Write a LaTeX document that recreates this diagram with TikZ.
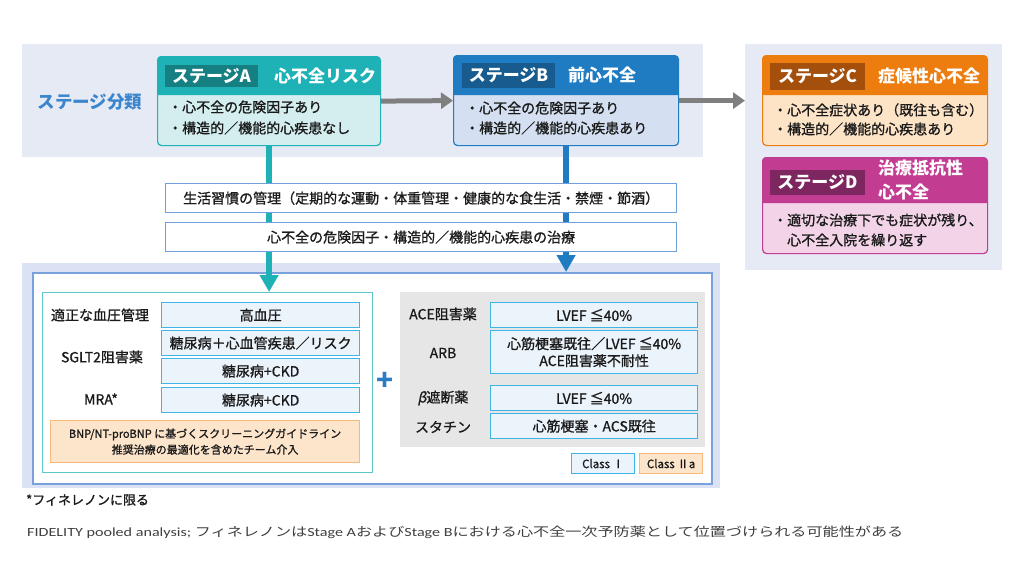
\documentclass[tikz,border=0pt]{standalone}
\usepackage{fontspec}
\usepackage{graphicx}
\setmainfont{Noto Sans CJK JP}
\newfontfamily\slnt[FakeSlant=0.2,FakeBold=1]{Noto Sans CJK JP}
\newfontfamily\med[FakeBold=1]{Noto Sans CJK JP}
\newfontfamily\carlito{Carlito}
\usetikzlibrary{arrows.meta}
\newcommand\fz[1]{\fontsize{#1}{#1}\selectfont}
\definecolor{bandbg}{HTML}{E6EAF5}
\definecolor{lowband}{HTML}{DAE2F3}
\definecolor{frameblue}{HTML}{79A2DC}
\definecolor{Ahead}{HTML}{1EB2B6}
\definecolor{Adark}{HTML}{167F82}
\definecolor{Abody}{HTML}{D4EEF0}
\definecolor{Bhead}{HTML}{1F7CC2}
\definecolor{Bdark}{HTML}{175B8F}
\definecolor{Bbody}{HTML}{D4E0F1}
\definecolor{Chead}{HTML}{EE7D10}
\definecolor{Cdark}{HTML}{A4500C}
\definecolor{Cbody}{HTML}{FDE4C7}
\definecolor{Dhead}{HTML}{C23D92}
\definecolor{Ddark}{HTML}{7D2660}
\definecolor{Dbody}{HTML}{F2D3E7}
\definecolor{arrowgray}{HTML}{7F7F7F}
\definecolor{titleblue}{HTML}{3A85CD}
\definecolor{lifeborder}{HTML}{70A0DC}
\definecolor{tealborder}{HTML}{5EC7C9}
\definecolor{rowfill}{HTML}{EBF3FB}
\definecolor{rowborder}{HTML}{3FB4E6}
\definecolor{orfill}{HTML}{FDE5CB}
\definecolor{orborder}{HTML}{F5B97E}
\definecolor{panelgray}{HTML}{E6E6E6}
\definecolor{plusblue}{HTML}{2B7CC4}
\definecolor{txt}{HTML}{1A1A1A}
\definecolor{foot}{HTML}{404040}
\begin{document}
\begin{tikzpicture}[x=1pt,y=-1pt,
  nw/.style={inner sep=0pt, anchor=north west},
  band/.style={nw, fill=bandbg},
  stage/.style={nw, rounded corners=4pt, line width=1.2pt},
  lab/.style={inner sep=0pt, text=white, font=\fz{17}\bfseries},
  body/.style={anchor=west, inner sep=0pt, text=txt, font=\med\fz{14}},
  garrow/.style={draw=arrowgray, line width=5pt, -{Triangle[length=12pt,width=16pt]}},
  vline/.style={line width=5.5pt, -{Triangle[length=17pt,width=18pt]}},
  life/.style={nw, draw=lifeborder, fill=white, line width=1.3pt, minimum width=511pt, minimum height=29pt, text=txt, font=\med\fz{14}},
  row/.style={nw, draw=rowborder, fill=rowfill, line width=1.3pt, text=txt, font=\med\fz{14}, align=center},
  lbl/.style={inner sep=0pt, text=txt, font=\med\fz{14}},
  cls/.style={nw, line width=1.2pt, minimum width=63pt, minimum height=20pt, text=txt, font=\med\fz{11.5}}
]
\useasboundingbox (0,0) rectangle (1024,576);
\fill[white] (0,0) rectangle (1024,576);

% bands
\node[band, minimum width=681pt, minimum height=113pt] (band) at (22,44) {};
\node[band, minimum width=257pt, minimum height=226pt] (cdband) at (745,44) {};
\node[text=titleblue, font=\fz{17.5}\bfseries, inner sep=0pt] (cls) at (90,102) {ステージ分類};

% lower frame
\node[nw, fill=lowband, minimum width=698pt, minimum height=225pt] (treatband) at (22,263) {};
\node[nw, draw=frameblue, fill=white, line width=1.5pt, minimum width=679pt, minimum height=211pt] (treat) at (32,272) {};
\node[nw, draw=tealborder, fill=white, line width=1.2pt, minimum width=330pt, minimum height=180pt] (left) at (42,292) {};
\node[nw, fill=panelgray, minimum width=305pt, minimum height=155pt] (right) at (400,292) {};

% stage A
\node[stage, draw=Ahead, fill=Abody, minimum width=223pt, minimum height=89pt] (A) at (157,56) {};
\fill[Ahead] (157,95) [rounded corners=4pt] -- (157,56) -- (380,56) [sharp corners] -- (380,95) -- cycle;
\node[lab, fill=Adark, minimum width=93pt, minimum height=22pt] (Alab) at (211.5,76) {ステージA};
\node[lab, anchor=west] (Atitle) at (274,76) {心不全リスク};
\node[body] (A1) at (168,107) {・心不全の危険因子あり};
\node[body] (A2) at (168,128) {・構造的／機能的心疾患なし};

% stage B
\node[stage, draw=Bhead, fill=Bbody, minimum width=225pt, minimum height=90pt] (B) at (453,55) {};
\fill[Bhead] (453,95) [rounded corners=4pt] -- (453,55) -- (678,55) [sharp corners] -- (678,95) -- cycle;
\node[lab, fill=Bdark, minimum width=93pt, minimum height=25pt] (Blab) at (508.5,75) {ステージB};
\node[lab, anchor=west] (Btitle) at (568,75) {前心不全};
\node[body] (B1) at (465,108) {・心不全の危険因子あり};
\node[body] (B2) at (465,128) {・構造的／機能的心疾患あり};

% stage C
\node[stage, draw=Chead, fill=Cbody, minimum width=225pt, minimum height=90pt] (C) at (762,55) {};
\fill[Chead] (762,95) [rounded corners=4pt] -- (762,55) -- (987,55) [sharp corners] -- (987,95) -- cycle;
\node[lab, fill=Cdark, minimum width=95pt, minimum height=27pt] (Clab) at (817.5,76.5) {ステージC};
\node[lab, anchor=west] (Ctitle) at (878,76) {症候性心不全};
\node[body] (C1) at (773,110) {・心不全症状あり（既往も含む）};
\node[body] (C2) at (773,129) {・構造的／機能的心疾患あり};

% stage D
\node[stage, draw=Dhead, fill=Dbody, minimum width=225pt, minimum height=96pt] (D) at (762,157) {};
\fill[Dhead] (762,203) [rounded corners=4pt] -- (762,157) -- (987,157) [sharp corners] -- (987,203) -- cycle;
\node[lab, fill=Ddark, minimum width=95pt, minimum height=25pt] (Dlab) at (817.5,182.5) {ステージD};
\node[lab, anchor=west, align=left, font=\fontsize{17}{24}\selectfont\bfseries] (Dtitle) at (878,180) {治療抵抗性\\心不全};
\node[body] (D1) at (773,220) {・適切な治療下でも症状が残り、};
\node[body] (D2) at (787,240) {心不全入院を繰り返す};

% arrows
\draw[garrow] (A.east) -- (B.west);
\draw[garrow] (B.east) -- (B.east -| cdband.west);
\draw[vline, draw=Ahead, fill=Ahead] (A.south) -- (A.south |- left.north);
\draw[vline, draw=Bhead, fill=Bhead] (B.south) -- (B.south |- treat.north);

% lifestyle boxes
\node[life] (life1) at (165,183) {生活習慣の管理（定期的な運動・体重管理・健康的な食生活・禁煙・節酒）};
\node[life] (life2) at (165,222) {心不全の危険因子・構造的／機能的心疾患の治療};

% left rows
\node[row, minimum width=198pt, minimum height=25pt] (hbp) at (161,302) {高血圧};
\node[row, minimum width=198pt, minimum height=25pt] (dmcv) at (161,330) {糖尿病＋心血管疾患／リスク};
\node[row, minimum width=198pt, minimum height=25pt] (dmckd1) at (161,358) {糖尿病+CKD};
\node[row, minimum width=198pt, minimum height=25pt] (dmckd2) at (161,387) {糖尿病+CKD};
\node[lbl] (bp) at (100,315) {適正な血圧管理};
\node[lbl] (sglt) at (102,357) {SGLT2阻害薬};
\node[lbl] (mra) at (101,399) {MRA*};
\node[nw, draw=orborder, fill=orfill, line width=1.2pt, minimum width=309pt, minimum height=42pt, align=center, text=txt, font=\med\fontsize{11}{16}\selectfont] (team) at (50,420) {BNP/NT-proBNP に基づくスクリーニングガイドライン\\推奨治療の最適化を含めたチーム介入};

% plus
\node[text=plusblue, font=\fz{28}\bfseries, inner sep=0pt] (plus) at (385,381) {+};

% right rows
\node[row, minimum width=207pt, minimum height=25pt] (ace) at (490,302) {LVEF ≦40\%};
\node[row, minimum width=207pt, minimum height=43pt, font=\med\fontsize{14}{17}\selectfont] (arb) at (490,330) {心筋梗塞既往／LVEF ≦40\%\\ACE阻害薬不耐性};
\node[row, minimum width=207pt, minimum height=25pt] (beta) at (490,385) {LVEF ≦40\%};
\node[row, minimum width=207pt, minimum height=25pt] (stat) at (490,413) {心筋梗塞・ACS既往};
\node[lbl] (acel) at (443,314) {ACE阻害薬};
\node[lbl] (arbl) at (443,353) {ARB};
\node[lbl] (betal) at (443,398) {{\slnt β}遮断薬};
\node[lbl] (statl) at (443,427) {スタチン};

% class legend
\node[cls, draw=rowborder, fill=rowfill] (c1) at (571,453) {Class Ⅰ};
\node[cls, draw=orborder, fill=orfill] (c2) at (639,453) {Class Ⅱa};

% footnotes
\node[anchor=west, inner sep=0pt, text=txt, font=\med\fz{13}] (fn1) at (26,500) {*フィネレノンに限る};
\node[anchor=west, inner sep=0pt, text=foot] (fn2) at (27,532) {\resizebox{876pt}{\height}{\fz{12.5}{\carlito FIDELITY pooled analysis;} フィネレノンは{\carlito Stage A}および{\carlito Stage B}における心不全一次予防薬として位置づけられる可能性がある}};
\end{tikzpicture}
\end{document}
